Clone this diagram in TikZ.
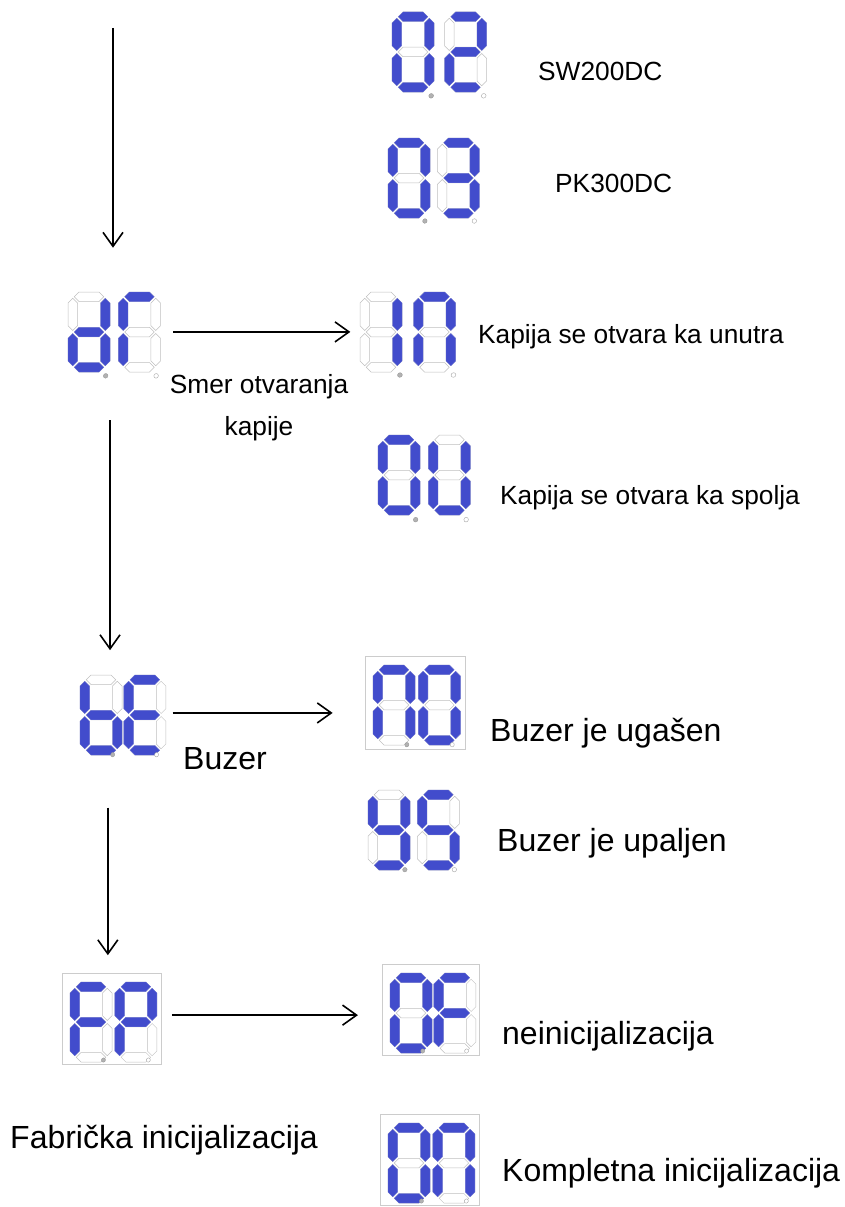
\documentclass[tikz,border=0pt]{standalone}
\usepackage{fontspec}
\setmainfont{Liberation Sans}
\usetikzlibrary{arrows.meta,positioning,fit}
\definecolor{segblue}{RGB}{66,76,204}
% segment half width and gap
\def\sh{4.75}\def\sg{1.5}
\newcommand\hseg[3]{(#2+\sg,#1) -- (#2+\sg+\sh,#1-\sh) -- (#3-\sg-\sh,#1-\sh) -- (#3-\sg,#1) -- (#3-\sg-\sh,#1+\sh) -- (#2+\sg+\sh,#1+\sh) -- cycle}
\newcommand\vseg[3]{(#1,#2+\sg) -- (#1+\sh,#2+\sg+\sh) -- (#1+\sh,#3-\sg-\sh) -- (#1,#3-\sg) -- (#1-\sh,#3-\sg-\sh) -- (#1-\sh,#2+\sg+\sh) -- cycle}
\tikzset{
  px/.style={x=1pt, y=-1pt},
  sega/.pic={\path[pic actions] \hseg{4.75}{4.75}{37.25};},
  segb/.pic={\path[pic actions] \vseg{37.25}{4.75}{40};},
  segc/.pic={\path[pic actions] \vseg{37.25}{40}{75.25};},
  segd/.pic={\path[pic actions] \hseg{75.25}{4.75}{37.25};},
  sege/.pic={\path[pic actions] \vseg{4.75}{40}{75.25};},
  segf/.pic={\path[pic actions] \vseg{4.75}{4.75}{40};},
  segg/.pic={\path[pic actions] \hseg{40}{4.75}{37.25};},
  seg on/.style={fill=segblue, draw=segblue!80!white, line width=0.3pt},
  seg off/.style={draw=black!25, line width=0.5pt},
  dot l/.style={fill=black!30, draw=black!40, line width=0.4pt},
  dot r/.style={fill=white, draw=black!35, line width=0.4pt},
  disp/.style={inner sep=0pt, draw=none},
  boxed/.style={draw=black!20, line width=0.7pt},
  lbl/.style={inner sep=0pt, font=\fontsize{26.3}{30}\selectfont},
  lbl big/.style={inner sep=0pt, font=\fontsize{32}{38}\selectfont},
  flow/.style={line width=1.6pt, -{Straight Barb[length=14pt, width=20pt]}},
}
% #2 name, #3 top left, #4/#5 scale, #6/#7 lit segments
\newcommand\sevdisp[7][]{%
  \begin{scope}[shift={(#3)}, xscale=#4, yscale=#5]
    \coordinate (#2 nw) at (-9,-9);
    \coordinate (#2 se) at (104,88);
    \begin{scope}[xslant=0.06]
      \foreach \s in {a,...,g} {\pic[seg off] at (0,0) {seg\s}; \pic[seg off] at (51,0) {seg\s};}
      \foreach \s in {#6} {\pic[seg on] at (0,0) {seg\s};}
      \foreach \s in {#7} {\pic[seg on] at (51,0) {seg\s};}
      \draw[dot l] (43,83) circle[radius=2.3];
      \draw[dot r] (94,83) circle[radius=2.3];
    \end{scope}
  \end{scope}
  \node[disp, fit=(#2 nw)(#2 se), #1] (#2) {};
}
\begin{document}
\begin{tikzpicture}[px]
\useasboundingbox (0,0) rectangle (845,1207);
\sevdisp{sw}{392,12}{1.03}{1.01}{a,b,c,d,e,f}{a,b,g,e,d}
\sevdisp{pk}{388,138}{0.97}{1.0}{a,b,c,d,e,f}{a,b,g,c,d}
\sevdisp{dr}{68,292}{0.99}{1.01}{b,c,d,e,g}{a,f,e}
\sevdisp{inw}{360,292}{1.05}{1.0}{b,c}{a,b,c,e,f}
\sevdisp{outw}{378,435}{0.99}{1.02}{a,b,c,d,e,f}{b,c,d,e,f}
\sevdisp{be}{80,675}{0.86}{0.96}{c,d,e,f,g}{a,d,e,f,g}
\sevdisp[boxed]{bno}{373,665}{0.89}{0.96}{a,b,c,e,f}{a,b,c,d,e,f}
\sevdisp{bys}{368,790}{0.97}{0.96}{b,c,d,f,g}{a,c,d,f,g}
\sevdisp[boxed]{fp}{70,982}{0.88}{0.94}{a,e,f,g}{a,b,e,f,g}
\sevdisp[boxed]{fof}{390,973}{0.86}{0.94}{a,b,c,d,e,f}{a,e,f,g}
\sevdisp[boxed]{fon}{388,1123}{0.88}{0.94}{a,b,c,d,e,f}{a,b,c,e,f}

\node[lbl, anchor=base west] (swlbl) at (538,80.5) {SW200DC};
\node[lbl, anchor=base west] (pklbl) at (555,192.5) {PK300DC};
\node[lbl, anchor=base west] (inlbl) at (478,343) {Kapija se otvara ka unutra};
\node[lbl, anchor=base west] (outlbl) at (500,504) {Kapija se otvara ka spolja};
\node[lbl, align=center, anchor=north, font=\fontsize{26.3}{42}\selectfont] (dirlbl) at (259,374) {Smer otvaranja\\kapije};
\node[lbl big, anchor=base west] (belbl) at (183,769) {Buzer};
\node[lbl big, anchor=base west] (nolbl) at (490,741) {Buzer je ugašen};
\node[lbl big, anchor=base west] (yslbl) at (497,851) {Buzer je upaljen};
\node[lbl big, anchor=base west] (oflbl) at (502,1044) {neinicijalizacija};
\node[lbl big, anchor=base west] (fplbl) at (10,1148) {Fabrička inicijalizacija};
\node[lbl big, anchor=base west] (onlbl) at (502,1181) {Kompletna inicijalizacija};

\coordinate (start) at (113,28);
\draw[flow, shorten >=35pt] (start) -- (start |- dr.north);
\draw[flow, shorten <=2pt] (dr.east) -- (dr.east -| inw.west);
\draw[flow, shorten <=39pt, shorten >=16pt] ([xshift=-5pt]dr.south) -- ([xshift=-5pt]dr.south |- be.north);
\draw[flow, shorten <=3pt, shorten >=32pt] (be.east) -- (be.east -| bno.west);
\draw[flow, shorten <=48pt, shorten >=18pt] ([xshift=-13pt]be.south) -- ([xshift=-13pt]be.south |- fp.north);
\draw[flow, shorten <=10pt, shorten >=24pt] ([yshift=4pt]fp.east) -- ([yshift=4pt]fp.east -| fof.west);
\end{tikzpicture}
\end{document}
